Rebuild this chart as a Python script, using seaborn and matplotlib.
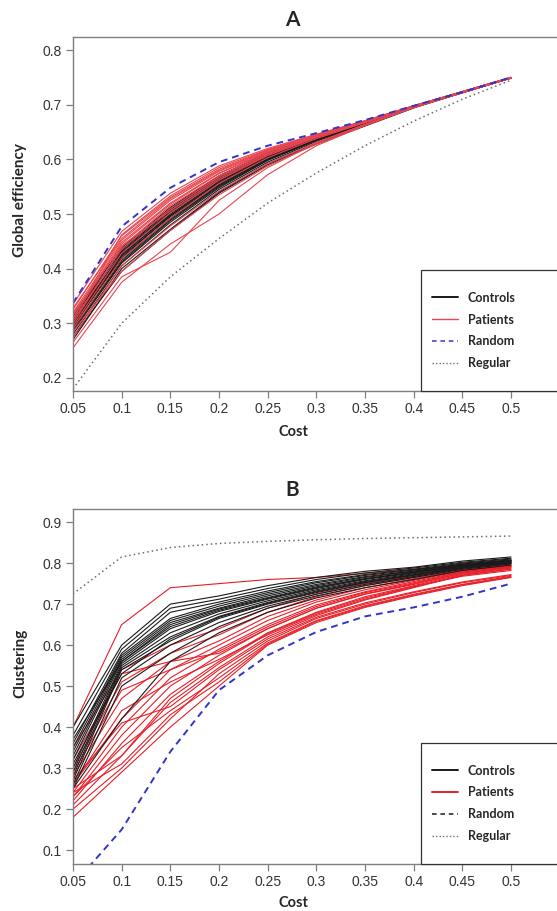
import numpy as np
import pandas as pd
import matplotlib
matplotlib.use("Agg")
import matplotlib.pyplot as plt
import seaborn as sns
from matplotlib.lines import Line2D
from matplotlib.patches import Rectangle

# ---- data ----
cost = [0.05, 0.1, 0.15, 0.2, 0.25, 0.3, 0.35, 0.4, 0.45, 0.5]
cost_ticks = [0.05, 0.1, 0.15, 0.2, 0.25, 0.3, 0.35, 0.4, 0.45, 0.5]
cost_ticklabels = ["0.05", "0.1", "0.15", "0.2", "0.25", "0.3", "0.35", "0.4", "0.45", "0.5"]

# panel A: global efficiency
ge_random = [0.337, 0.477, 0.548, 0.595, 0.625, 0.648, 0.672, 0.698, 0.723, 0.750]
ge_regular = [0.180, 0.300, 0.385, 0.455, 0.520, 0.575, 0.625, 0.670, 0.710, 0.745]
ge_controls = [
    [0.300, 0.425, 0.500, 0.560, 0.605, 0.640, 0.668, 0.697, 0.723, 0.749],
    [0.290, 0.415, 0.490, 0.552, 0.600, 0.636, 0.666, 0.696, 0.723, 0.749],
    [0.310, 0.432, 0.508, 0.566, 0.609, 0.642, 0.669, 0.697, 0.723, 0.749],
    [0.280, 0.405, 0.480, 0.545, 0.595, 0.633, 0.664, 0.695, 0.722, 0.749],
    [0.295, 0.420, 0.497, 0.558, 0.603, 0.638, 0.667, 0.696, 0.723, 0.749],
    [0.305, 0.428, 0.503, 0.562, 0.606, 0.641, 0.668, 0.697, 0.723, 0.749],
    [0.270, 0.400, 0.472, 0.540, 0.592, 0.630, 0.662, 0.695, 0.722, 0.749],
    [0.315, 0.438, 0.512, 0.570, 0.612, 0.643, 0.670, 0.698, 0.724, 0.750],
    [0.285, 0.410, 0.485, 0.548, 0.598, 0.635, 0.665, 0.696, 0.722, 0.749],
    [0.298, 0.423, 0.495, 0.555, 0.602, 0.637, 0.667, 0.696, 0.723, 0.749],
    [0.308, 0.418, 0.492, 0.553, 0.601, 0.637, 0.666, 0.696, 0.723, 0.749],
    [0.292, 0.430, 0.505, 0.564, 0.607, 0.641, 0.668, 0.697, 0.723, 0.749],
    [0.275, 0.395, 0.470, 0.538, 0.590, 0.628, 0.661, 0.694, 0.722, 0.749],
    [0.302, 0.426, 0.498, 0.558, 0.604, 0.639, 0.667, 0.696, 0.723, 0.749],
    [0.288, 0.412, 0.488, 0.550, 0.599, 0.635, 0.665, 0.696, 0.722, 0.749],
    [0.312, 0.435, 0.510, 0.568, 0.610, 0.642, 0.669, 0.697, 0.723, 0.749],
]
ge_patients = [
    [0.255, 0.375, 0.445, 0.500, 0.572, 0.625, 0.662, 0.695, 0.722, 0.749],
    [0.265, 0.385, 0.430, 0.525, 0.585, 0.630, 0.664, 0.695, 0.722, 0.749],
    [0.335, 0.468, 0.538, 0.588, 0.620, 0.646, 0.671, 0.698, 0.724, 0.750],
    [0.325, 0.460, 0.530, 0.582, 0.617, 0.645, 0.670, 0.698, 0.724, 0.750],
    [0.320, 0.452, 0.525, 0.578, 0.615, 0.644, 0.670, 0.698, 0.724, 0.750],
    [0.310, 0.445, 0.518, 0.574, 0.613, 0.643, 0.669, 0.697, 0.723, 0.750],
    [0.300, 0.440, 0.515, 0.570, 0.611, 0.642, 0.669, 0.697, 0.723, 0.749],
    [0.315, 0.448, 0.520, 0.575, 0.614, 0.644, 0.670, 0.697, 0.724, 0.750],
    [0.305, 0.436, 0.510, 0.568, 0.610, 0.642, 0.669, 0.697, 0.723, 0.749],
    [0.285, 0.395, 0.470, 0.535, 0.588, 0.628, 0.662, 0.695, 0.722, 0.749],
    [0.295, 0.428, 0.502, 0.562, 0.607, 0.640, 0.668, 0.697, 0.723, 0.749],
    [0.328, 0.455, 0.528, 0.580, 0.616, 0.645, 0.670, 0.698, 0.724, 0.750],
    [0.275, 0.405, 0.478, 0.542, 0.592, 0.631, 0.664, 0.695, 0.722, 0.749],
    [0.318, 0.442, 0.506, 0.565, 0.608, 0.641, 0.668, 0.697, 0.723, 0.749],
    [0.290, 0.418, 0.492, 0.556, 0.603, 0.638, 0.667, 0.696, 0.723, 0.749],
    [0.308, 0.462, 0.533, 0.585, 0.618, 0.645, 0.670, 0.698, 0.724, 0.750],
]

# panel B: clustering
cl_random = [0.015, 0.150, 0.340, 0.490, 0.575, 0.632, 0.670, 0.692, 0.718, 0.750]
cl_regular = [0.725, 0.815, 0.838, 0.848, 0.853, 0.857, 0.860, 0.862, 0.864, 0.866]
cl_controls = [
    [0.400, 0.600, 0.700, 0.720, 0.745, 0.765, 0.780, 0.790, 0.805, 0.815],
    [0.380, 0.590, 0.690, 0.712, 0.738, 0.760, 0.776, 0.788, 0.802, 0.812],
    [0.360, 0.580, 0.680, 0.705, 0.732, 0.755, 0.772, 0.785, 0.800, 0.810],
    [0.350, 0.575, 0.665, 0.700, 0.728, 0.752, 0.770, 0.783, 0.798, 0.808],
    [0.340, 0.570, 0.660, 0.695, 0.724, 0.748, 0.767, 0.781, 0.797, 0.807],
    [0.330, 0.565, 0.655, 0.690, 0.720, 0.745, 0.765, 0.780, 0.796, 0.806],
    [0.320, 0.560, 0.650, 0.688, 0.716, 0.742, 0.762, 0.778, 0.794, 0.805],
    [0.300, 0.555, 0.640, 0.682, 0.712, 0.738, 0.760, 0.776, 0.793, 0.804],
    [0.290, 0.550, 0.630, 0.676, 0.708, 0.735, 0.757, 0.774, 0.792, 0.803],
    [0.280, 0.545, 0.620, 0.670, 0.704, 0.732, 0.755, 0.772, 0.790, 0.802],
    [0.270, 0.540, 0.610, 0.665, 0.700, 0.728, 0.752, 0.770, 0.789, 0.801],
    [0.260, 0.520, 0.600, 0.655, 0.695, 0.724, 0.748, 0.767, 0.787, 0.800],
    [0.250, 0.500, 0.580, 0.645, 0.690, 0.720, 0.745, 0.765, 0.785, 0.798],
    [0.250, 0.420, 0.560, 0.630, 0.680, 0.715, 0.740, 0.760, 0.782, 0.795],
    [0.370, 0.560, 0.645, 0.685, 0.714, 0.740, 0.762, 0.777, 0.795, 0.806],
    [0.310, 0.530, 0.615, 0.668, 0.702, 0.730, 0.753, 0.771, 0.790, 0.801],
]
cl_patients = [
    [0.400, 0.650, 0.740, 0.750, 0.760, 0.765, 0.775, 0.785, 0.795, 0.805],
    [0.350, 0.540, 0.600, 0.640, 0.690, 0.725, 0.750, 0.768, 0.788, 0.800],
    [0.300, 0.510, 0.580, 0.625, 0.680, 0.718, 0.745, 0.765, 0.785, 0.798],
    [0.280, 0.470, 0.560, 0.610, 0.670, 0.710, 0.740, 0.762, 0.783, 0.796],
    [0.260, 0.420, 0.540, 0.600, 0.660, 0.705, 0.735, 0.758, 0.781, 0.794],
    [0.240, 0.400, 0.520, 0.590, 0.650, 0.698, 0.730, 0.755, 0.779, 0.792],
    [0.230, 0.380, 0.500, 0.575, 0.640, 0.690, 0.725, 0.750, 0.776, 0.790],
    [0.220, 0.360, 0.480, 0.560, 0.630, 0.680, 0.718, 0.745, 0.773, 0.788],
    [0.250, 0.330, 0.460, 0.545, 0.620, 0.672, 0.710, 0.740, 0.770, 0.785],
    [0.200, 0.300, 0.420, 0.530, 0.610, 0.665, 0.700, 0.728, 0.752, 0.770],
    [0.180, 0.290, 0.400, 0.500, 0.600, 0.655, 0.692, 0.720, 0.745, 0.765],
    [0.230, 0.350, 0.440, 0.520, 0.605, 0.660, 0.696, 0.724, 0.748, 0.768],
    [0.270, 0.410, 0.450, 0.540, 0.615, 0.668, 0.703, 0.730, 0.754, 0.772],
    [0.240, 0.310, 0.430, 0.510, 0.602, 0.658, 0.694, 0.722, 0.747, 0.766],
    [0.320, 0.530, 0.560, 0.580, 0.640, 0.690, 0.724, 0.748, 0.775, 0.790],
    [0.260, 0.440, 0.510, 0.565, 0.625, 0.675, 0.712, 0.742, 0.771, 0.786],
    [0.210, 0.330, 0.470, 0.555, 0.628, 0.678, 0.715, 0.743, 0.768, 0.782],
    [0.290, 0.490, 0.540, 0.585, 0.645, 0.694, 0.728, 0.752, 0.778, 0.792],
]


def to_long(rows, group):
    recs = []
    for i, row in enumerate(rows):
        for c, v in zip(cost, row):
            recs.append((c, v, f"{group}{i}", group))
    return pd.DataFrame(recs, columns=["cost", "value", "subject", "group"])


sns.set_style("white")
plt.rcParams["font.family"] = ["Liberation Sans", "DejaVu Sans"]

W, H = 557, 911
fig = plt.figure(figsize=(W / 100, H / 100), dpi=100)

BLACK = "#1a1a1a"
BLUE = "#3434c8"
GRAY = "#6e6e6e"
LABEL_FONT = ["Lato", "DejaVu Sans"]


def panel(top_px, bottom_px, ylim, yticks, controls, patients, rnd, reg,
          red, ylabel, ylabel_px, title, title_px, cost_px, rnd_legend_color, patients_first):
    x_right = 0.56
    width_px = (x_right - 0.05) / 0.45 * 438
    ax = fig.add_axes([73 / W, (H - bottom_px) / H, width_px / W, (bottom_px - top_px) / H])

    dc = to_long(controls, "Controls")
    dp = to_long(patients, "Patients")
    order = [dp, dc] if patients_first else [dc, dp]
    for d in order:
        g = d["group"].iloc[0]
        sns.lineplot(data=d, x="cost", y="value", units="subject", estimator=None,
                     color=BLACK if g == "Controls" else red, lw=0.8,
                     legend=False, sort=False, ax=ax)

    sns.lineplot(x=cost, y=reg, color=GRAY, lw=1.1, linestyle=(0, (1, 2)), ax=ax)
    sns.lineplot(x=cost, y=rnd, color=BLUE, lw=1.4, linestyle=(0, (3.5, 2.5)), ax=ax)

    ax.set_xlim(0.05, x_right)
    ax.set_ylim(*ylim)
    ax.set_xticks(cost_ticks)
    ax.set_xticklabels(cost_ticklabels)
    ax.set_yticks(yticks)
    ax.set_yticklabels([f"{t:g}" for t in yticks])
    ax.set_xlabel("")
    ax.set_ylabel("")
    for s in ax.spines.values():
        s.set_color("#7f7f7f")
        s.set_linewidth(1.0)
    ax.tick_params(axis="both", direction="out", length=5, width=0.9, color="#7f7f7f",
                   labelsize=10, labelcolor="#333333", pad=3,
                   bottom=True, left=True, top=False, right=False)

    # legend box
    ax_h = bottom_px - top_px
    box_left = (421 - 73) / width_px
    box_h = 121 / ax_h
    ax.add_patch(Rectangle((box_left, 0), 0.6, box_h, transform=ax.transAxes,
                           facecolor="white", edgecolor="#333333", lw=0.9,
                           clip_on=False, zorder=5))
    handles = [
        Line2D([], [], color=BLACK, lw=1.4),
        Line2D([], [], color=red, lw=1.4 if patients_first else 1.0),
        Line2D([], [], color=rnd_legend_color, lw=1.1, linestyle=(0, (3, 2.5))),
        Line2D([], [], color=GRAY, lw=1.0, linestyle=(0, (1, 1.5))),
    ]
    leg = ax.legend(handles, ["Controls", "Patients", "Random", "Regular"],
                    loc="center left", bbox_to_anchor=((432 - 73) / width_px, 0.171),
                    frameon=False, borderpad=0, borderaxespad=0,
                    handlelength=2.1, handletextpad=0.75, labelspacing=0.78,
                    prop={"family": LABEL_FONT, "weight": "bold", "size": 9})
    leg.set_zorder(6)

    fig.text(20 / W, 1 - ylabel_px / H, ylabel, rotation=90,
             ha="center", va="center", family=LABEL_FONT, weight="bold", fontsize=11)
    fig.text(293 / W, 1 - cost_px / H, "Cost", ha="center", va="center",
             family=LABEL_FONT, weight="bold", fontsize=10.5)
    fig.text(292 / W, 1 - title_px / H, title, ha="center", va="center",
             family=LABEL_FONT, weight="bold", fontsize=15)
    return ax


panel(37, 391, (0.176, 0.824), [0.2, 0.3, 0.4, 0.5, 0.6, 0.7, 0.8],
      ge_controls, ge_patients, ge_random, ge_regular,
      "#e8454f", "Global efficiency", 200, "A", 20, 432, BLUE, False)
panel(509, 864, (0.066, 0.932), [0.1, 0.2, 0.3, 0.4, 0.5, 0.6, 0.7, 0.8, 0.9],
      cl_controls, cl_patients, cl_random, cl_regular,
      "#e81e28", "Clustering", 663, "B", 490, 903, BLACK, True)

fig.savefig("out.png", dpi=100)
